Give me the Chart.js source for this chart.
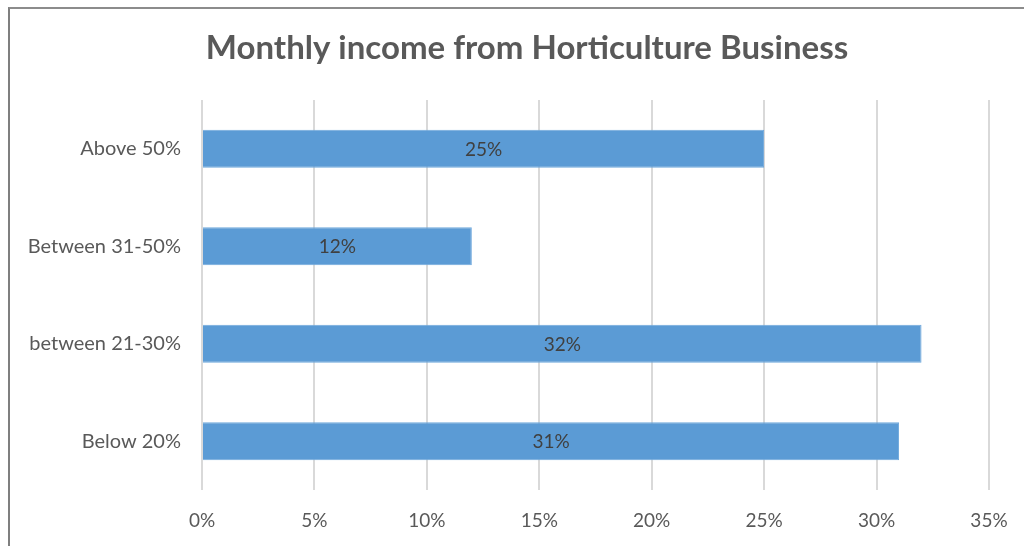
<!DOCTYPE html>
<html>
<head>
<meta charset="utf-8">
<script src="https://cdn.jsdelivr.net/npm/chart.js@4"></script>
<style>
  html, body { margin: 0; padding: 0; background: #fff; }
  #wrap { position: relative; width: 1024px; height: 546px; }
  #frame { position: absolute; left: 8px; top: 7px; right: -4px; bottom: -4px;
           border-left: 2px solid #7f7f7f; border-top: 2px solid #8c8c8c; pointer-events: none; }
</style>
</head>
<body>
<div id="wrap">
  <canvas id="incomeChart" width="1024" height="546"></canvas>
  <div id="frame"></div>
</div>
<script>
// データ
const categories = ['Above 50%', 'Between 31-50%', 'between 21-30%', 'Below 20%'];
const shares = [25, 12, 32, 31];
const tickValues = [0, 5, 10, 15, 20, 25, 30, 35];
const titleText = 'Monthly income from Horticulture Business';

const FONT = "Lato, 'Open Sans', sans-serif";

// タイトル（少し右寄りに描く）
const chartTitle = {
    id: 'chartTitle',
    afterDraw(chart) {
        const ctx = chart.ctx;
        ctx.save();
        ctx.font = 'bold 33px ' + FONT;
        ctx.fillStyle = '#595959';
        ctx.textAlign = 'center';
        ctx.textBaseline = 'middle';
        ctx.fillText(titleText, 527, 48);
        ctx.restore();
    }
};

// バー中央に値を描く
const centerLabels = {
    id: 'centerLabels',
    afterDatasetsDraw(chart) {
        const ctx = chart.ctx;
        const meta = chart.getDatasetMeta(0);
        ctx.save();
        ctx.font = '19px ' + FONT;
        ctx.fillStyle = '#404040';
        ctx.textAlign = 'center';
        ctx.textBaseline = 'middle';
        meta.data.forEach((bar, i) => {
            const cx = (bar.x + bar.base) / 2;
            ctx.fillText(shares[i] + '%', cx, bar.y + 1);
        });
        ctx.restore();
    }
};

new Chart(document.getElementById('incomeChart'), {
    type: 'bar',
    data: {
        labels: categories,
        datasets: [{
            data: shares,
            backgroundColor: '#5b9bd5',
            borderColor: '#6fa8dc',
            borderWidth: 1,
            barPercentage: 0.39,
            categoryPercentage: 1
        }]
    },
    options: {
        indexAxis: 'y',
        responsive: false,
        animation: false,
        layout: { padding: { left: 0, right: 35, top: 100, bottom: 0 } },
        plugins: {
            legend: { display: false },
            tooltip: { enabled: false },
            title: { display: false }
        },
        scales: {
            x: {
                min: 0,
                max: 35,
                afterBuildTicks(scale) {
                    scale.ticks = tickValues.map(v => ({ value: v }));
                },
                afterFit(scale) {
                    scale.height = 56;
                    scale.paddingLeft = 0;
                    scale.paddingRight = 0;
                },
                grid: { color: '#d9d9d9', lineWidth: 2, drawTicks: false },
                border: { display: false },
                ticks: {
                    padding: 19,
                    color: '#595959',
                    font: { family: FONT, size: 19 },
                    callback: v => v + '%'
                }
            },
            y: {
                afterFit(scale) { scale.width = 202; },
                grid: { display: false, drawTicks: false },
                border: { display: false },
                ticks: {
                    padding: 21,
                    color: '#595959',
                    font: { family: FONT, size: 20 }
                }
            }
        }
    },
    plugins: [centerLabels, chartTitle]
});
</script>
</body>
</html>
